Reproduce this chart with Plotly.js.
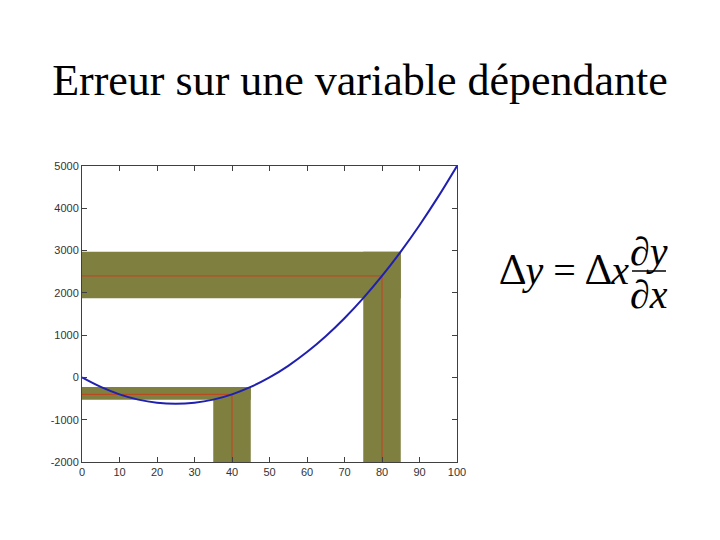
<!DOCTYPE html>
<html>
<head>
<meta charset="utf-8">
<script src="https://cdn.plot.ly/plotly-3.0.1.min.js"></script>
<style>html,body{margin:0;padding:0;background:#fff;}#chart{width:720px;height:540px;}</style>
</head>
<body>
<div id="chart"></div>
<script>
// Curve y(x)
const curveX = [0,5,10,15,20,25,30,35,40,45,50,55,60,65,70,75,80,85,90,95,100];
const curveY = [0,-225,-400,-525,-600,-625,-600,-525,-400,-225,0,275,600,975,1400,1875,2400,2975,3600,4275,5000];

// Measured points and their error bands
const measX = [40, 80];
const measY = [-400, 2400];
const bandXLow = [35, 75];
const bandXHigh = [45, 85];
const bandYLow = [-525, 1875];
const bandYHigh = [-225, 2975];

const xTicks = [0,10,20,30,40,50,60,70,80,90,100];
const yTicks = [-2000,-1000,0,1000,2000,3000,4000,5000];
const yTickText = ["-2000","-1000","0","1000","2000","3000","4000","5000"];

const titleText = "Erreur sur une variable dépendante";

const yMin = -2000, yMax = 5000, xMin = 0, xMax = 100;
const bandColor = "#7f7f40";
const redColor = "#c8401e";

const shapes = [];
for (let i = 0; i < measX.length; i++) {
  shapes.push({type:"rect", xref:"x", yref:"y", layer:"below",
    x0:bandXLow[i], x1:bandXHigh[i], y0:yMin, y1:bandYHigh[i],
    fillcolor:bandColor, line:{width:0}});
  shapes.push({type:"rect", xref:"x", yref:"y", layer:"below",
    x0:xMin, x1:bandXHigh[i], y0:bandYLow[i], y1:bandYHigh[i],
    fillcolor:bandColor, line:{width:0}});
}
for (let i = 0; i < measX.length; i++) {
  shapes.push({type:"line", xref:"x", yref:"y", layer:"below",
    x0:measX[i], x1:measX[i], y0:yMin, y1:measY[i], line:{color:redColor, width:1}});
  shapes.push({type:"line", xref:"x", yref:"y", layer:"below",
    x0:xMin, x1:measX[i], y0:measY[i], y1:measY[i], line:{color:redColor, width:1}});
}
// fraction bar of the formula
shapes.push({type:"line", xref:"paper", yref:"paper",
  x0:1.4667, x1:1.5573, y0:0.645, y1:0.645, line:{color:"#000", width:1.5}});

const SERIF = "Liberation Serif";
function eqFont() { return {family:SERIF, size:40, color:"#000"}; }
function delta() { return '<span style="font-family:\'Noto Serif\'">Δ</span>'; }

const data = [{
  x: curveX, y: curveY, type:"scatter", mode:"lines",
  line:{color:"#2020b0", width:2, shape:"spline"}, hoverinfo:"skip"
}];

const axisCommon = {
  showgrid:false, zeroline:false, showline:true, linecolor:"#404040", linewidth:1,
  mirror:"ticks", ticks:"inside", ticklen:5, tickcolor:"#404040",
  tickfont:{family:"Liberation Sans", size:11, color:"#333"}
};

const layout = {
  width:720, height:540,
  margin:{l:82, r:263, t:166, b:78},
  font:{family:SERIF, color:"#000"},
  paper_bgcolor:"#fff", plot_bgcolor:"#fff",
  showlegend:false,
  title:{text:titleText, font:{family:SERIF, size:44, color:"#000"},
    xref:"container", x:0.5, xanchor:"center", yref:"container", y:0.852, yanchor:"middle"},
  xaxis:Object.assign({}, axisCommon, {range:[xMin,xMax], tickvals:xTicks}),
  yaxis:Object.assign({}, axisCommon, {range:[yMin,yMax], tickvals:yTicks, ticktext:yTickText}),
  shapes: shapes,
  annotations:[
    {xref:"paper", yref:"paper", x:1.1093, y:0.6554, xanchor:"left", yanchor:"middle",
     text:delta() + "<i>y</i> = " + delta() + "<i>x</i>", showarrow:false, font:eqFont()},
    {xref:"paper", yref:"paper", x:1.512, y:0.712, xanchor:"center", yanchor:"middle",
     text:"∂<i>y</i>", showarrow:false, font:eqFont()},
    {xref:"paper", yref:"paper", x:1.512, y:0.565, xanchor:"center", yanchor:"middle",
     text:"∂<i>x</i>", showarrow:false, font:eqFont()}
  ]
};

Plotly.newPlot("chart", data, layout, {displayModeBar:false, staticPlot:true});
</script>
</body>
</html>
